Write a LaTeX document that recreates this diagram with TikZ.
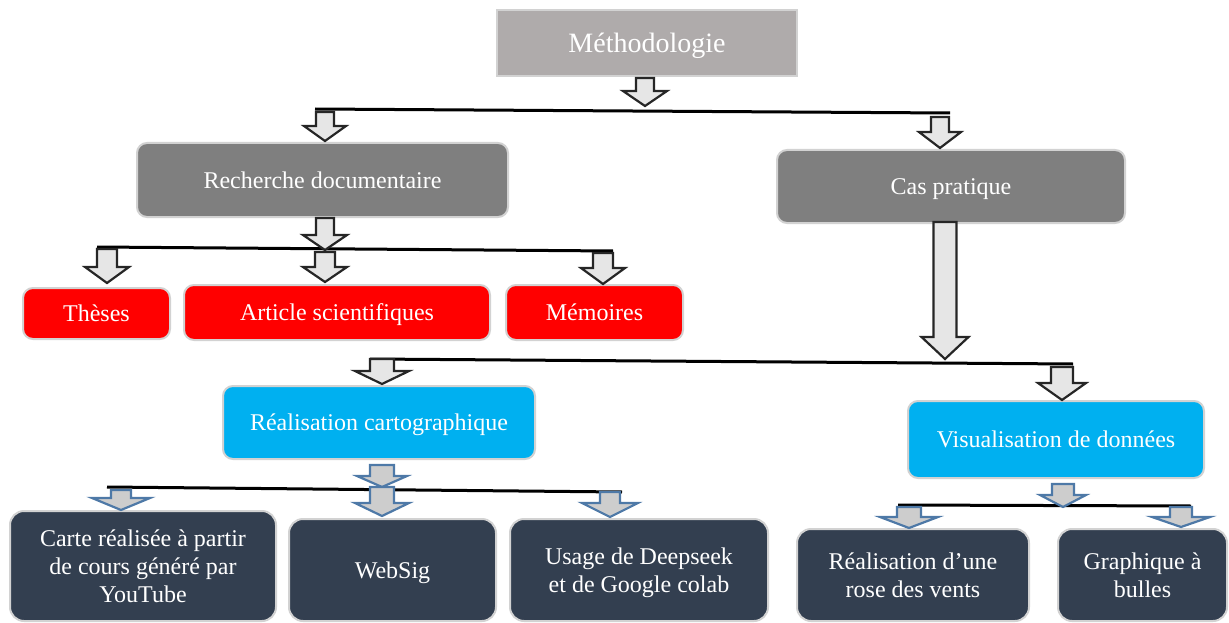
\documentclass[tikz,border=0pt]{standalone}
\usepackage{fontspec}
\setmainfont{Liberation Serif}
\definecolor{methgray}{HTML}{AFABAB}
\definecolor{midgray}{HTML}{7F7F7F}
\definecolor{boxred}{HTML}{FF0000}
\definecolor{boxcyan}{HTML}{00B0F0}
\definecolor{boxnavy}{HTML}{333F50}
\definecolor{rimgray}{HTML}{D2D2D2}
\definecolor{arrfill}{HTML}{E6E6E6}
\definecolor{barrfill}{HTML}{CDCDCD}
\definecolor{barrline}{HTML}{4E79A7}
\newcommand\blockarr[7]{%
  \draw[#1] ({#2-#5},#3) -- ({#2+#5},#3) -- ({#2+#5},#7) -- ({#2+#6},#7) -- (#2,#4) -- ({#2-#6},#7) -- ({#2-#5},#7) -- cycle;}
\begin{document}
\begin{tikzpicture}[x=1pt,y=-1pt,
  box/.style={draw=rimgray, line width=2pt, rounded corners=10pt, text=white, inner sep=0pt,
     font=\fontsize{24}{28}\selectfont, align=center, text depth=0pt},
  blackarr/.style={draw=black!85, fill=arrfill, line width=2.2pt, line join=miter},
  bluearr/.style={draw=barrline, fill=barrfill, line width=2.2pt, line join=miter},
  hline/.style={draw=black, line width=3pt}]
\useasboundingbox (0,0) rectangle (1229,623);

% nodes
\node[box, rounded corners=0pt, fill=methgray, minimum width=300pt, minimum height=66pt,
      font=\fontsize{28}{32}\selectfont, text depth=-2pt] (meth) at (647,43) {Méthodologie};
\node[box, fill=midgray, minimum width=371pt, minimum height=74pt] (rech) at (322.5,180) {Recherche documentaire};
\node[box, fill=midgray, minimum width=348pt, minimum height=73pt] (cas) at (951,186.5) {Cas pratique};
\node[box, fill=boxred, minimum width=147pt, minimum height=51pt] (theses) at (96.5,313.5) {Thèses};
\node[box, fill=boxred, minimum width=306pt, minimum height=55pt] (article) at (337,312.5) {Article scientifiques};
\node[box, fill=boxred, minimum width=177pt, minimum height=55pt] (memoires) at (594.5,312.5) {Mémoires};
\node[box, fill=boxcyan, minimum width=312pt, minimum height=73pt] (carto) at (379,422.5) {Réalisation cartographique};
\node[box, fill=boxcyan, minimum width=296pt, minimum height=77pt] (visu) at (1056,439.5) {Visualisation de données};
\node[box, rounded corners=14pt, fill=boxnavy, minimum width=266pt, minimum height=110pt] (carte) at (143,566) {Carte réalisée à partir\\de cours généré par\\YouTube};
\node[box, rounded corners=14pt, fill=boxnavy, minimum width=207pt, minimum height=102pt] (websig) at (392.5,570) {WebSig};
\node[box, rounded corners=14pt, fill=boxnavy, minimum width=258pt, minimum height=102pt] (usage) at (639,570) {Usage de Deepseek\\et de Google colab};
\node[box, rounded corners=14pt, fill=boxnavy, minimum width=232pt, minimum height=92pt] (rose) at (913,575) {Réalisation d’une\\rose des vents};
\node[box, rounded corners=14pt, fill=boxnavy, minimum width=169pt, minimum height=92pt] (graph) at (1142.5,575) {Graphique à\\bulles};

% horizontal bars
\coordinate (l1a) at (315,109); \coordinate (l1b) at (950,113);
\coordinate (l2a) at (97,247);  \coordinate (l2b) at (613,251);
\coordinate (l3a) at (370,359); \coordinate (l3b) at (1073,364);
\coordinate (l4a) at (107,487); \coordinate (l4b) at (622,492);
\coordinate (l5a) at (898,505); \coordinate (l5b) at (1191,506);
\draw[hline] (l1a) -- (l1b);
\draw[hline] (l2a) -- (l2b);
\draw[hline] (l3a) -- (l3b);

% black block arrows
\blockarr{blackarr}{645}{78}{106}{9}{22}{91}
\blockarr{blackarr}{325}{112}{141}{9}{21}{126}
\blockarr{blackarr}{940}{117}{148}{9}{21}{132}
\blockarr{blackarr}{325}{218}{250}{9}{22}{235}
\blockarr{blackarr}{107}{249}{283}{10}{22}{267}
\blockarr{blackarr}{325}{252}{282}{10}{22}{267}
\blockarr{blackarr}{603}{253}{284}{10}{22}{268}
\blockarr{blackarr}{945}{222}{359}{11.5}{23.5}{337}
\blockarr{blackarr}{382}{359}{384}{12}{27}{371}
\blockarr{blackarr}{1062}{367}{400}{11}{24}{383}

% blue block arrows
\blockarr{bluearr}{382}{465}{487}{12}{25}{476}
\draw[hline] (l4a) -- (l4b);
\draw[hline] (l5a) -- (l5b);
\blockarr{bluearr}{382}{487}{516}{12}{27}{503}
\blockarr{bluearr}{121}{490}{510}{10}{29}{498}
\blockarr{bluearr}{610}{492}{517}{10}{28}{503}
\blockarr{bluearr}{1063}{484}{507}{11}{23}{495}
\blockarr{bluearr}{909}{507}{528}{12}{29}{517}
\blockarr{bluearr}{1181}{507}{527}{11}{29}{517}
\end{tikzpicture}
\end{document}
